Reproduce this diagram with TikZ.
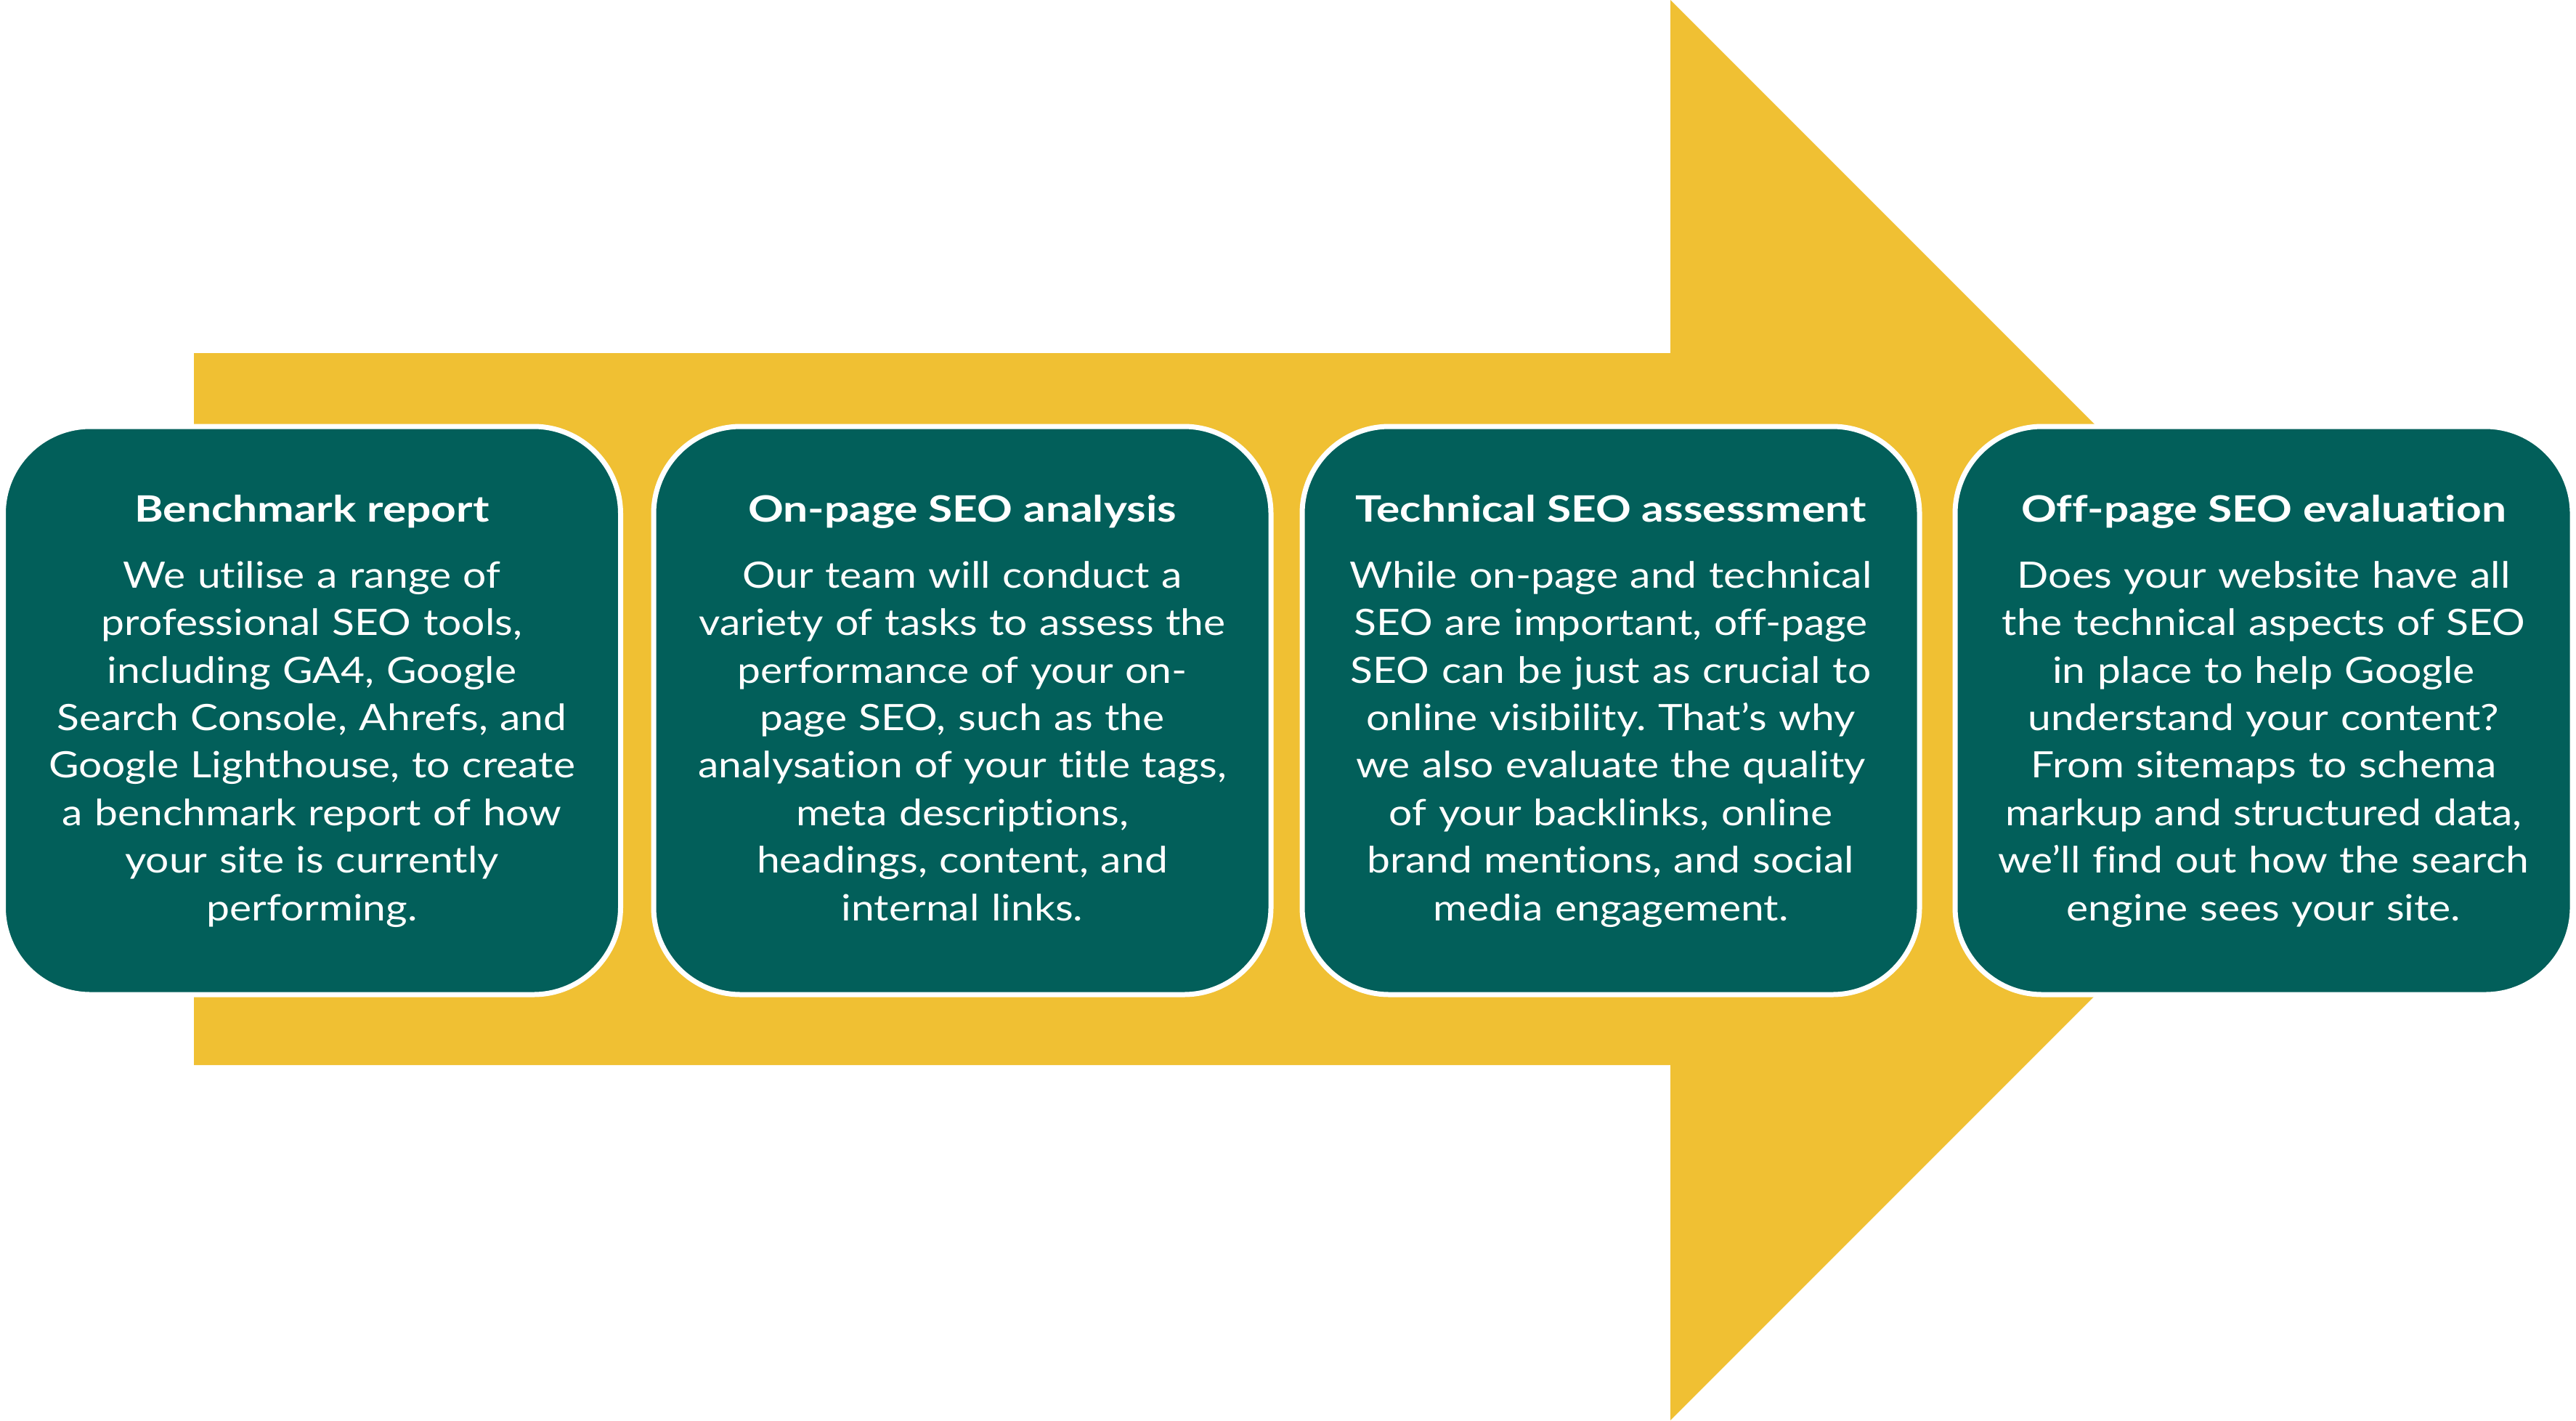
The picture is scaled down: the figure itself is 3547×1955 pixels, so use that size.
\documentclass[tikz,border=0pt]{standalone}
\usepackage{fontspec}
\setmainfont{Lato}
\newfontfamily\bodyfont{Lato}[FakeStretch=1.14,Ligatures=NoCommon]
\newfontfamily\headfont{Lato}[FakeStretch=1.21,Ligatures=NoCommon]
\definecolor{arrowyellow}{HTML}{F0C033}
\definecolor{boxteal}{HTML}{025F5A}
\begin{document}
\frenchspacing
\begin{tikzpicture}[x=1pt,y=-1pt,
  stagebox/.style={rectangle, draw=white, line width=7pt, fill=boxteal,
    rounded corners=120pt, minimum width=850pt, minimum height=782pt, inner sep=0pt},
  stagetitle/.style={anchor=base, text=white, inner sep=0pt,
    font=\headfont\fontsize{50}{60}\selectfont\bfseries},
  stagebody/.style={anchor=north, text=white, inner sep=0pt, text width=845pt,
    align=center, font=\bodyfont\fontsize{50}{65.4}\selectfont}]
\useasboundingbox (0,0) rectangle (3547,1955);
% big arrow
\fill[arrowyellow] (267,486) -- (2300,486) -- (2300,0) -- (3277.5,977.5)
  -- (2300,1955) -- (2300,1466) -- (267,1466) -- cycle;
% boxes
\node[stagebox] (b1) at (429.5,978) {};
\node[stagebox] (b2) at (1325,978) {};
\node[stagebox] (b3) at (2218,978) {};
\node[stagebox] (b4) at (3117,978) {};
% titles
\node[stagetitle] (t1) at (429.5,718) {Benchmark report};
\node[stagetitle] (t2) at (1325,718) {On-page SEO analysis};
\node[stagetitle] (t3) at (2218,718) {Technical SEO assessment};
\node[stagetitle] (t4) at (3117,718) {Off-page SEO evaluation};
% bodies
\node[stagebody] (d1) at (429.5,769) {\rule{0pt}{40pt}We utilise a range of\\
professional SEO tools,\\
including GA4, Google\\
Search Console, Ahrefs, and\\
Google Lighthouse, to create\\
a benchmark report of how\\
your site is currently\\
performing.};
\node[stagebody] (d2) at (1325,769) {\rule{0pt}{40pt}Our team will conduct a\\
variety of tasks to assess the\\
performance of your on-\\
page SEO, such as the\\
analysation of your title tags,\\
meta descriptions,\\
headings, content, and\\
internal links.};
\node[stagebody] (d3) at (2218,769) {\rule{0pt}{40pt}While on-page and technical\\
SEO are important, off-page\\
SEO can be just as crucial to\\
online visibility. That’s why\\
we also evaluate the quality\\
of your backlinks, online\\
brand mentions, and social\\
media engagement.};
\node[stagebody] (d4) at (3117,769) {\rule{0pt}{40pt}Does your website have all\\
the technical aspects of SEO\\
in place to help Google\\
understand your content?\\
From sitemaps to schema\\
markup and structured data,\\
we’ll find out how the search\\
engine sees your site.};
\end{tikzpicture}
\end{document}
